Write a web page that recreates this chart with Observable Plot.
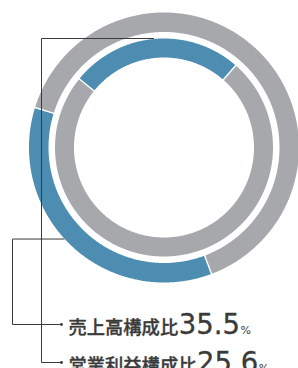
<!DOCTYPE html>
<html><head><meta charset="utf-8">
<script src="https://cdn.jsdelivr.net/npm/d3@7"></script>
<script src="https://cdn.jsdelivr.net/npm/@observablehq/plot@0.6"></script>
<style>body{margin:0;background:#fff}</style>
</head><body><div id="chart"></div>
<script>
// data
const series = ["売上高構成比", "営業利益構成比"];
const values = [35.5, 25.6];
const unitLabel = ["%", "%"];

// layout
const W = 298, H = 368;
const cx = 163.5, cy = 147;
const rings = [
  {rOuter: 135, rInner: 115.5, start: 159.4, anchorAngle: 227.5},
  {rOuter: 109, rInner: 90, start: -51, anchorAngle: -5.5}
];
const blue = "#4d8db1", grey = "#a7a8ac", ink = "#3a3a3a";
const fontFamily = "'Noto Sans CJK JP', 'Noto Sans', sans-serif";
const numFamily = "'DejaVu Sans', sans-serif";
const labelFont = 18.3, valueFont = 27.5, pctFont = 11;
const labelX = 68 - cx;
const baselines = [333 - cy, 371 - cy];
const elbowX = [12 - cx, 41 - cx];
const lineEndX = 60 - cx;
const lineY = [324 - cy, 362 - cy];

const pol = (r, deg) => ({x: r * Math.sin(deg * Math.PI / 180), y: -r * Math.cos(deg * Math.PI / 180)});

// ring segments
const pts = [];
const seps = [];
values.forEach((v, i) => {
  const g = rings[i];
  const span = v / 100 * 360;
  const segs = [[g.start, g.start + span, blue], [g.start + span, g.start + 360, grey]];
  segs.forEach(([a0, a1, col], j) => {
    const key = i + "-" + j;
    const n = Math.ceil((a1 - a0) / 0.5);
    for (let k = 0; k <= n; k++) { const a = a0 + (a1 - a0) * k / n; pts.push({key, col, ...pol(g.rOuter, a)}); }
    for (let k = n; k >= 0; k--) { const a = a0 + (a1 - a0) * k / n; pts.push({key, col, ...pol(g.rInner, a)}); }
  });
  [g.start, g.start + span].forEach(a => {
    const p1 = pol(g.rInner - 1, a), p2 = pol(g.rOuter + 1, a);
    seps.push({x1: p1.x, y1: p1.y, x2: p2.x, y2: p2.y});
  });
});

// leaders
const leaders = [];
const dots = [];
values.forEach((v, i) => {
  const g = rings[i];
  const a = pol(g.rOuter + 0.5, g.anchorAngle);
  const path = [a, {x: elbowX[i], y: a.y}, {x: elbowX[i], y: lineY[i]}, {x: lineEndX, y: lineY[i]}];
  path.forEach(p => leaders.push({id: i, ...p}));
  dots.push({x: lineEndX + 1, y: lineY[i]});
});

// text measure
const ctx = document.createElement("canvas").getContext("2d");
const measure = (t, size, fam, wt = 400) => { ctx.font = `${wt} ${size}px ${fam}`; return ctx.measureText(t).width; };
const texts = series.map((s, i) => {
  const vx = labelX + measure(s, labelFont, fontFamily, 500) + 0.5;
  const vs = values[i].toFixed(1);
  const px = vx + measure(vs, valueFont, numFamily) + 0.5;
  return {label: s, value: vs, unit: unitLabel[i], lx: labelX, vx, px, y: baselines[i]};
});

const chart = Plot.plot({
  width: W, height: H,
  margin: 0,
  x: {domain: [-cx, W - cx], axis: null},
  y: {domain: [-cy, H - cy], range: [0, H], axis: null},
  color: {type: "identity"},
  style: {fontFamily, background: "#fff"},
  marks: [
    Plot.line(pts, {x: "x", y: "y", z: "key", fill: "col", stroke: null, curve: "linear-closed"}),
    Plot.link(seps, {x1: "x1", y1: "y1", x2: "x2", y2: "y2", stroke: "#fff", strokeWidth: 1.4}),
    Plot.line(leaders, {x: "x", y: "y", z: "id", stroke: ink, strokeWidth: 1}),
    Plot.dot(dots, {x: "x", y: "y", r: 1.4, fill: ink, stroke: null}),
    Plot.text(texts, {x: "lx", y: "y", text: "label", textAnchor: "start", lineAnchor: "bottom", fontSize: labelFont, fontWeight: 500, fill: ink, stroke: ink, strokeWidth: 0.35}),
    Plot.text(texts, {x: "vx", y: "y", text: "value", textAnchor: "start", lineAnchor: "bottom", fontSize: valueFont, fontFamily: numFamily, fill: ink, stroke: ink, strokeWidth: 0.3}),
    Plot.text(texts, {x: "px", y: "y", text: "unit", textAnchor: "start", lineAnchor: "bottom", fontSize: pctFont, fontFamily: numFamily, fill: ink})
  ]
});
document.getElementById("chart").appendChild(chart);
</script>
</body></html>
